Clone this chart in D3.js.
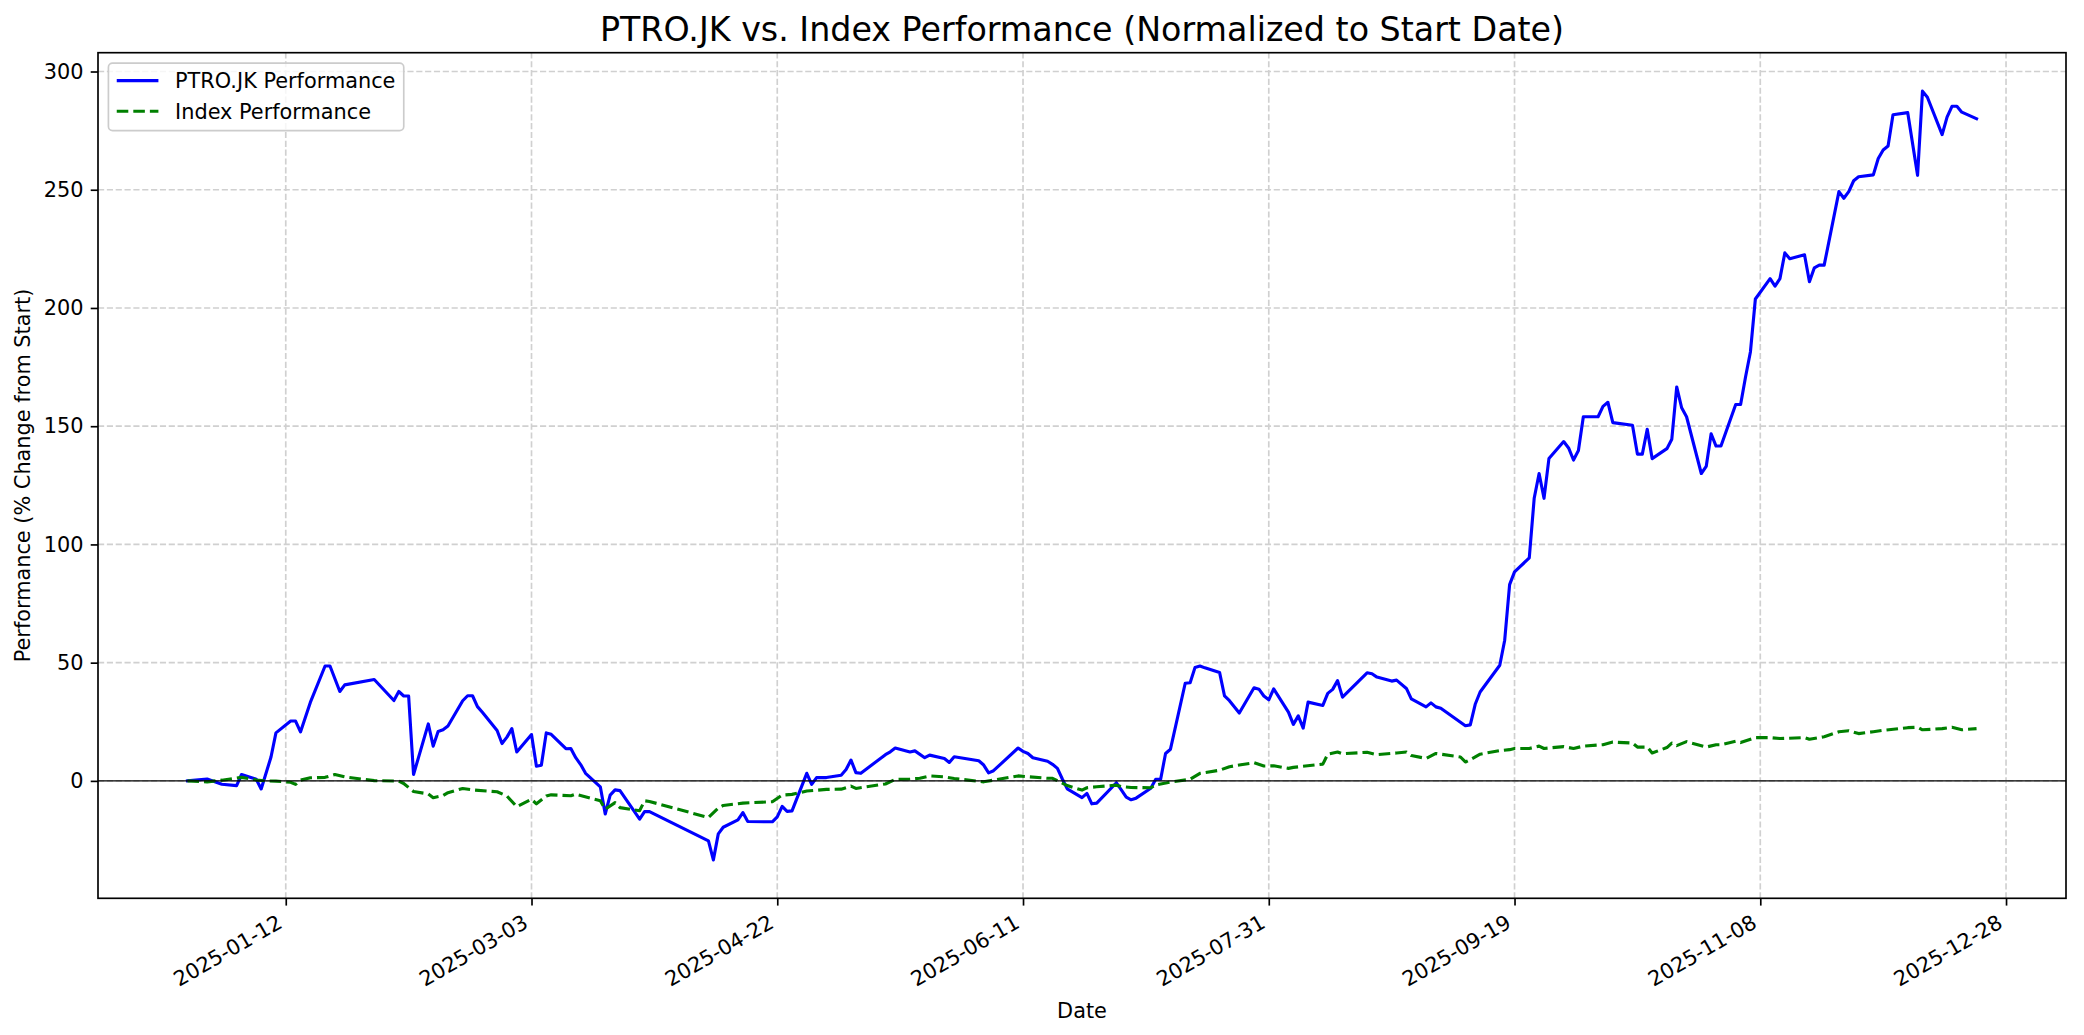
<!DOCTYPE html>
<html>
<head>
<meta charset="utf-8">
<script src="https://cdn.jsdelivr.net/npm/d3@7"></script>
<style>
  body { margin: 0; background: #ffffff; }
  svg { display: block; font-family: "DejaVu Sans", sans-serif; }
</style>
</head>
<body>
<div id="chart"></div>
<script>
// PTRO.JK, % change from first close
const ptroDates = [
  "2024-12-23", "2024-12-27", "2024-12-30", "2025-01-02", "2025-01-03", "2025-01-06", "2025-01-07", "2025-01-09",
  "2025-01-10", "2025-01-13", "2025-01-14", "2025-01-15", "2025-01-17", "2025-01-20", "2025-01-21", "2025-01-23",
  "2025-01-24", "2025-01-30", "2025-02-03", "2025-02-04", "2025-02-05", "2025-02-06", "2025-02-07", "2025-02-10",
  "2025-02-11", "2025-02-12", "2025-02-13", "2025-02-14", "2025-02-17", "2025-02-18", "2025-02-19", "2025-02-20",
  "2025-02-21", "2025-02-24", "2025-02-25", "2025-02-26", "2025-02-27", "2025-02-28", "2025-03-03", "2025-03-04",
  "2025-03-05", "2025-03-06", "2025-03-07", "2025-03-10", "2025-03-11", "2025-03-12", "2025-03-13", "2025-03-14",
  "2025-03-17", "2025-03-18", "2025-03-19", "2025-03-20", "2025-03-21", "2025-03-25", "2025-03-26", "2025-03-27",
  "2025-04-08", "2025-04-09", "2025-04-10", "2025-04-11", "2025-04-14", "2025-04-15", "2025-04-16", "2025-04-21",
  "2025-04-22", "2025-04-23", "2025-04-24", "2025-04-25", "2025-04-28", "2025-04-29", "2025-04-30", "2025-05-02",
  "2025-05-05", "2025-05-06", "2025-05-07", "2025-05-08", "2025-05-09", "2025-05-14", "2025-05-15", "2025-05-16",
  "2025-05-19", "2025-05-20", "2025-05-22", "2025-05-23", "2025-05-26", "2025-05-27", "2025-05-28", "2025-06-02",
  "2025-06-03", "2025-06-04", "2025-06-05", "2025-06-10", "2025-06-11", "2025-06-12", "2025-06-13", "2025-06-16",
  "2025-06-17", "2025-06-18", "2025-06-19", "2025-06-20", "2025-06-23", "2025-06-24", "2025-06-25", "2025-06-26",
  "2025-06-30", "2025-07-01", "2025-07-02", "2025-07-03", "2025-07-04", "2025-07-07", "2025-07-08", "2025-07-09",
  "2025-07-10", "2025-07-11", "2025-07-14", "2025-07-15", "2025-07-16", "2025-07-17", "2025-07-18", "2025-07-21",
  "2025-07-22", "2025-07-23", "2025-07-25", "2025-07-28", "2025-07-29", "2025-07-30", "2025-07-31", "2025-08-01",
  "2025-08-04", "2025-08-05", "2025-08-06", "2025-08-07", "2025-08-08", "2025-08-11", "2025-08-12", "2025-08-13",
  "2025-08-14", "2025-08-15", "2025-08-20", "2025-08-21", "2025-08-22", "2025-08-25", "2025-08-26", "2025-08-28",
  "2025-08-29", "2025-09-01", "2025-09-02", "2025-09-03", "2025-09-04", "2025-09-09", "2025-09-10", "2025-09-11",
  "2025-09-12", "2025-09-16", "2025-09-17", "2025-09-18", "2025-09-19", "2025-09-22", "2025-09-23", "2025-09-24",
  "2025-09-25", "2025-09-26", "2025-09-29", "2025-09-30", "2025-10-01", "2025-10-02", "2025-10-03", "2025-10-06",
  "2025-10-07", "2025-10-08", "2025-10-09", "2025-10-13", "2025-10-14", "2025-10-15", "2025-10-16", "2025-10-17",
  "2025-10-20", "2025-10-21", "2025-10-22", "2025-10-23", "2025-10-24", "2025-10-27", "2025-10-28", "2025-10-29",
  "2025-10-30", "2025-10-31", "2025-11-03", "2025-11-04", "2025-11-05", "2025-11-06", "2025-11-07", "2025-11-10",
  "2025-11-11", "2025-11-12", "2025-11-13", "2025-11-14", "2025-11-17", "2025-11-18", "2025-11-19", "2025-11-20",
  "2025-11-21", "2025-11-24", "2025-11-25", "2025-11-26", "2025-11-27", "2025-11-28", "2025-12-01", "2025-12-02",
  "2025-12-03", "2025-12-04", "2025-12-05", "2025-12-08", "2025-12-10", "2025-12-11", "2025-12-12", "2025-12-15",
  "2025-12-16", "2025-12-17", "2025-12-18", "2025-12-19", "2025-12-22"
];
const ptroValues = [
  0, 0.8, -1.4, -2.0, 2.7, 0.7, -3.4, 10.1,
  20.3, 25.3, 25.3, 20.7, 33.2, 48.6, 48.6, 37.8,
  40.6, 42.9, 34.0, 37.8, 35.9, 35.9, 2.7, 24.1,
  14.7, 20.9, 21.6, 23.2, 33.9, 36.0, 36.0, 31.4,
  29.0, 21.3, 15.8, 18.5, 22.1, 12.2, 19.6, 6.2,
  6.6, 20.3, 19.7, 13.6, 13.7, 9.8, 6.9, 3.2,
  -2.5, -14.0, -6.0, -3.8, -4.1, -16.2, -13.0, -13.0,
  -25.4, -33.4, -22.4, -19.6, -16.5, -13.4, -17.2, -17.3,
  -15.2, -10.8, -12.9, -12.7, 3.2, -1.5, 1.4, 1.4,
  2.4, 4.8, 8.8, 3.5, 3.2, 11.1, 12.3, 13.9,
  12.2, 12.7, 9.8, 10.9, 9.5, 7.8, 10.2, 8.5,
  6.7, 3.4, 4.3, 13.9, 12.5, 11.6, 9.8, 8.3,
  7.0, 5.3, 0.8, -3.4, -7.1, -5.3, -9.7, -9.4,
  -0.8, -3.8, -6.9, -8.0, -7.3, -3.1, 0.7, 0.7,
  11.6, 13.4, 41.3, 41.5, 48.0, 48.6, 47.8, 45.8,
  35.9, 33.9, 28.7, 39.4, 38.8, 35.9, 34.3, 38.9,
  29.1, 23.9, 27.5, 22.3, 33.3, 31.9, 37.0, 38.7,
  42.4, 35.4, 45.7, 45.3, 43.9, 42.2, 42.6, 39.1,
  34.7, 31.3, 33.0, 31.3, 30.7, 23.3, 23.7, 32.4,
  37.6, 48.9, 59.5, 83.0, 88.4, 94.3, 119.5, 130.0,
  119.5, 136.3, 143.5, 140.8, 135.7, 139.7, 154.0, 154.0,
  158.4, 160.1, 151.5, 150.4, 138.2, 138.2, 148.7, 136.3,
  140.5, 144.5, 166.6, 157.8, 154.0, 130.0, 133.0, 146.8,
  141.6, 141.6, 159.2, 159.2, 170.8, 181.5, 203.8, 212.4,
  209.2, 212.4, 223.3, 220.8, 222.5, 211.1, 217.0, 218.1,
  218.1, 249.2, 246.4, 249.2, 253.8, 255.5, 256.3, 263.2,
  266.8, 268.5, 281.7, 282.6, 256.1, 291.7, 289.1, 273.3,
  280.7, 285.3, 285.3, 282.8, 280.0
];

// Index, % change from first close
const indexDates = [
  "2024-12-23", "2024-12-27", "2024-12-30", "2025-01-03", "2025-01-06", "2025-01-08", "2025-01-10", "2025-01-13",
  "2025-01-14", "2025-01-15", "2025-01-17", "2025-01-20", "2025-01-22", "2025-01-24", "2025-01-30", "2025-02-04",
  "2025-02-05", "2025-02-07", "2025-02-10", "2025-02-11", "2025-02-13", "2025-02-14", "2025-02-17", "2025-02-19",
  "2025-02-24", "2025-02-26", "2025-02-28", "2025-03-03", "2025-03-04", "2025-03-06", "2025-03-07", "2025-03-11",
  "2025-03-12", "2025-03-17", "2025-03-18", "2025-03-20", "2025-03-21", "2025-03-25", "2025-03-26", "2025-03-27",
  "2025-04-08", "2025-04-10", "2025-04-11", "2025-04-15", "2025-04-21", "2025-04-23", "2025-04-25", "2025-04-28",
  "2025-05-02", "2025-05-05", "2025-05-07", "2025-05-08", "2025-05-14", "2025-05-16", "2025-05-19", "2025-05-21",
  "2025-05-23", "2025-05-26", "2025-05-28", "2025-06-03", "2025-06-10", "2025-06-16", "2025-06-17", "2025-06-20",
  "2025-06-23", "2025-06-24", "2025-06-26", "2025-06-30", "2025-07-01", "2025-07-03", "2025-07-07", "2025-07-08",
  "2025-07-11", "2025-07-15", "2025-07-17", "2025-07-21", "2025-07-23", "2025-07-25", "2025-07-28", "2025-07-30",
  "2025-08-01", "2025-08-04", "2025-08-05", "2025-08-11", "2025-08-12", "2025-08-14", "2025-08-15", "2025-08-20",
  "2025-08-22", "2025-08-26", "2025-08-28", "2025-08-29", "2025-09-01", "2025-09-03", "2025-09-08", "2025-09-09",
  "2025-09-10", "2025-09-12", "2025-09-16", "2025-09-18", "2025-09-19", "2025-09-22", "2025-09-24", "2025-09-25",
  "2025-09-29", "2025-10-01", "2025-10-03", "2025-10-07", "2025-10-09", "2025-10-13", "2025-10-14", "2025-10-16",
  "2025-10-17", "2025-10-20", "2025-10-21", "2025-10-22", "2025-10-24", "2025-10-28", "2025-10-30", "2025-10-31",
  "2025-11-03", "2025-11-04", "2025-11-07", "2025-11-10", "2025-11-12", "2025-11-17", "2025-11-18", "2025-11-21",
  "2025-11-24", "2025-11-26", "2025-11-28", "2025-12-01", "2025-12-03", "2025-12-08", "2025-12-10", "2025-12-11",
  "2025-12-15", "2025-12-17", "2025-12-19", "2025-12-22"
];
const indexValues = [
  0, -0.4, 0.3, 1.5, 0.4, 0.0, -0.1, -0.6,
  -1.5, 0.3, 1.3, 1.5, 2.7, 1.7, 0.1, -0.1,
  -1.1, -4.5, -5.5, -7.1, -6.2, -5.0, -3.2, -3.8,
  -4.6, -6.4, -10.9, -7.8, -9.7, -6.4, -5.9, -6.3,
  -5.6, -8.4, -12.0, -9.2, -11.3, -12.6, -8.4, -8.7,
  -15.5, -11.5, -10.4, -9.4, -8.8, -6.0, -5.7, -4.3,
  -3.6, -3.5, -2.2, -3.2, -1.3, 0.6, 0.8, 1.1,
  2.1, 1.7, 1.0, -0.4, 2.1, 1.1, 1.1, -2.0,
  -3.9, -2.9, -2.5, -1.8, -2.4, -2.8, -2.9, -1.7,
  -0.5, 0.7, 3.2, 4.5, 6.0, 6.7, 7.7, 6.3,
  6.4, 5.3, 5.7, 7.1, 11.3, 12.2, 11.5, 12.1,
  11.1, 11.8, 12.2, 10.7, 9.5, 11.6, 10.1, 8.0,
  9.0, 11.3, 12.8, 13.2, 13.7, 13.7, 14.7, 13.7,
  14.5, 13.7, 14.7, 15.3, 16.4, 16.0, 14.3, 14.3,
  11.8, 14.1, 16.0, 14.9, 16.6, 14.3, 15.3, 15.3,
  16.8, 16.2, 18.3, 18.3, 17.9, 18.3, 17.6, 18.7,
  20.8, 21.2, 20.0, 20.8, 21.4, 22.5, 22.7, 21.6,
  22.1, 22.7, 21.6, 22.1
];

const xTickLabels = ["2025-01-12", "2025-03-03", "2025-04-22", "2025-06-11", "2025-07-31", "2025-09-19", "2025-11-08", "2025-12-28"];
const yTickValues = [0, 50, 100, 150, 200, 250, 300];

const seriesNames = ["PTRO.JK Performance", "Index Performance"];
const seriesColors = ["#0000ff", "#008000"];

/**
 * Line chart of a stock against its index, matplotlib look.
 */
class PerformanceChart {

  constructor(selector) {
    this.element = d3.select(selector);
    this.initialize();
    this.update();
  }

  initialize() {
    this.width = 2084;
    this.height = 1035;
    // axes box in pixels
    this.box = {left: 98, right: 2066, top: 52.7, bottom: 898.3};
    this.fontSize = 20.83;
    this.tickLength = 7.29;
    this.tickPad = 7.29;
    this.lineWidth = 3.125;

    let parse = d3.utcParse('%Y-%m-%d');
    this.datasets = [
      {label: seriesNames[0], color: seriesColors[0], dashed: false,
        data: ptroDates.map((d, i) => ({date: parse(d), value: ptroValues[i]}))},
      {label: seriesNames[1], color: seriesColors[1], dashed: true,
        data: indexDates.map((d, i) => ({date: parse(d), value: indexValues[i]}))}
    ];
    this.xTicks = xTickLabels.map(parse);
  }

  update() {
    this.createSVG();
    this.createScales();
    this.renderGrid();
    this.renderLines();
    this.renderAxis();
    this.renderLabels();
    this.renderLegend();
  }

  createSVG() {
    this.element.selectAll('svg').remove();
    this.svg = this.element
      .append('svg')
      .attr('width', this.width)
      .attr('height', this.height)
      .attr('viewBox', `0 0 ${this.width} ${this.height}`);
    this.svg.append('rect')
      .attr('width', this.width)
      .attr('height', this.height)
      .attr('fill', '#ffffff');
  }

  /**
   * Domains padded by 5% on each side, as matplotlib does.
   */
  createScales() {
    let all = this.datasets.flatMap(set => set.data);
    let [t0, t1] = d3.extent(all, d => d.date);
    let [v0, v1] = d3.extent(all, d => d.value);
    let dt = (t1 - t0) * 0.05;
    let dv = (v1 - v0) * 0.05;

    this.xChart = d3.scaleUtc()
      .domain([new Date(+t0 - dt), new Date(+t1 + dt)])
      .range([this.box.left, this.box.right]);

    this.yChart = d3.scaleLinear()
      .domain([v0 - dv, v1 + dv])
      .range([this.box.bottom, this.box.top]);
  }

  renderGrid() {
    let grid = this.svg.append('g')
      .attr('stroke', '#d0d0d0')
      .attr('stroke-width', 1.67)
      .attr('stroke-dasharray', '6.17,2.67');

    grid.selectAll('line.v')
      .data(this.xTicks)
      .enter()
      .append('line')
      .attr('x1', d => this.xChart(d))
      .attr('x2', d => this.xChart(d))
      .attr('y1', this.box.bottom)
      .attr('y2', this.box.top);

    grid.selectAll('line.h')
      .data(yTickValues)
      .enter()
      .append('line')
      .attr('x1', this.box.left)
      .attr('x2', this.box.right)
      .attr('y1', d => this.yChart(d))
      .attr('y2', d => this.yChart(d));
  }

  renderLines() {
    let line = d3.line()
      .x(d => this.xChart(d.date))
      .y(d => this.yChart(d.value));

    this.svg.append('g')
      .selectAll('path')
      .data(this.datasets)
      .enter()
      .append('path')
      .attr('d', d => line(d.data))
      .attr('fill', 'none')
      .attr('stroke', d => d.color)
      .attr('stroke-width', this.lineWidth)
      .attr('stroke-linejoin', 'round')
      .attr('stroke-linecap', d => d.dashed ? 'butt' : 'square')
      .attr('stroke-dasharray', d => d.dashed ? '11.56,5' : null);

    // zero reference line
    this.svg.append('line')
      .attr('x1', this.box.left)
      .attr('x2', this.box.right)
      .attr('y1', this.yChart(0))
      .attr('y2', this.yChart(0))
      .attr('stroke', '#000000')
      .attr('stroke-width', 1.1);
  }

  renderAxis() {
    let fs = this.fontSize;

    let xAxis = this.svg.append('g')
      .attr('transform', `translate(0,${this.box.bottom})`)
      .call(d3.axisBottom(this.xChart)
        .tickValues(this.xTicks)
        .tickFormat(d3.utcFormat('%Y-%m-%d'))
        .tickSize(this.tickLength)
        .tickSizeOuter(0));

    // rotated labels, right edge of the rotated box at the tick
    let ax = -0.24 * fs * 0.5;
    let ay = this.tickLength + this.tickPad + 0.866 * 0.76 * fs;
    xAxis.selectAll('.tick text')
      .attr('x', ax)
      .attr('y', ay)
      .attr('dy', null)
      .attr('text-anchor', 'end')
      .attr('transform', `rotate(-30,${ax},${ay})`);

    let yAxis = this.svg.append('g')
      .attr('transform', `translate(${this.box.left},0)`)
      .call(d3.axisLeft(this.yChart)
        .tickValues(yTickValues)
        .tickSize(this.tickLength)
        .tickPadding(this.tickPad)
        .tickSizeOuter(0));

    [xAxis, yAxis].forEach(axis => {
      axis.select('.domain').remove();
      axis.attr('font-family', '"DejaVu Sans", sans-serif')
        .attr('font-size', fs);
      axis.selectAll('.tick line')
        .attr('stroke', '#000000')
        .attr('stroke-width', 1.67);
      axis.selectAll('.tick text').attr('fill', '#000000');
    });

    // spines
    this.svg.append('rect')
      .attr('x', this.box.left)
      .attr('y', this.box.top)
      .attr('width', this.box.right - this.box.left)
      .attr('height', this.box.bottom - this.box.top)
      .attr('fill', 'none')
      .attr('stroke', '#000000')
      .attr('stroke-width', 1.67);
  }

  renderLabels() {
    let cx = (this.box.left + this.box.right) / 2;
    let cy = (this.box.top + this.box.bottom) / 2;

    this.svg.append('text')
      .attr('x', cx)
      .attr('y', 40.5)
      .attr('text-anchor', 'middle')
      .attr('font-size', 33.3)
      .text('PTRO.JK vs. Index Performance (Normalized to Start Date)');

    this.svg.append('text')
      .attr('x', cx)
      .attr('y', 1017.5)
      .attr('text-anchor', 'middle')
      .attr('font-size', this.fontSize)
      .text('Date');

    this.svg.append('text')
      .attr('transform', `translate(29.5,${cy}) rotate(-90)`)
      .attr('text-anchor', 'middle')
      .attr('font-size', this.fontSize)
      .text('Performance (% Change from Start)');
  }

  renderLegend() {
    let fs = this.fontSize;
    let x0 = this.box.left + 0.5 * fs;
    let y0 = this.box.top + 0.5 * fs;
    let pad = 0.4 * fs;
    let rowHeight = 20.2;
    let rowStep = rowHeight + 0.5 * fs;
    let handleX = x0 + pad;
    let textX = handleX + 2.0 * fs + 0.8 * fs;

    let legend = this.svg.append('g');
    let frame = legend.append('rect')
      .attr('x', x0)
      .attr('y', y0)
      .attr('rx', 0.2 * fs)
      .attr('ry', 0.2 * fs)
      .attr('height', 2 * pad + 2 * rowHeight + 0.5 * fs)
      .attr('fill', '#ffffff')
      .attr('fill-opacity', 0.8)
      .attr('stroke', '#cccccc')
      .attr('stroke-width', 1.67);

    let rows = legend.selectAll('g.row')
      .data(this.datasets)
      .enter()
      .append('g')
      .attr('transform', (d, i) => `translate(0,${y0 + pad + i * rowStep})`);

    rows.append('line')
      .attr('x1', handleX)
      .attr('x2', handleX + 2.0 * fs)
      .attr('y1', 9.2)
      .attr('y2', 9.2)
      .attr('stroke', d => d.color)
      .attr('stroke-width', this.lineWidth)
      .attr('stroke-dasharray', d => d.dashed ? '11.56,5' : null);

    rows.append('text')
      .attr('x', textX)
      .attr('y', 16.6)
      .attr('font-size', fs)
      .text(d => d.label);

    let widest = d3.max(rows.selectAll('text').nodes(), n => n.getComputedTextLength());
    frame.attr('width', textX - x0 + widest + pad);
  }
}

new PerformanceChart('#chart');
</script>
</body>
</html>
